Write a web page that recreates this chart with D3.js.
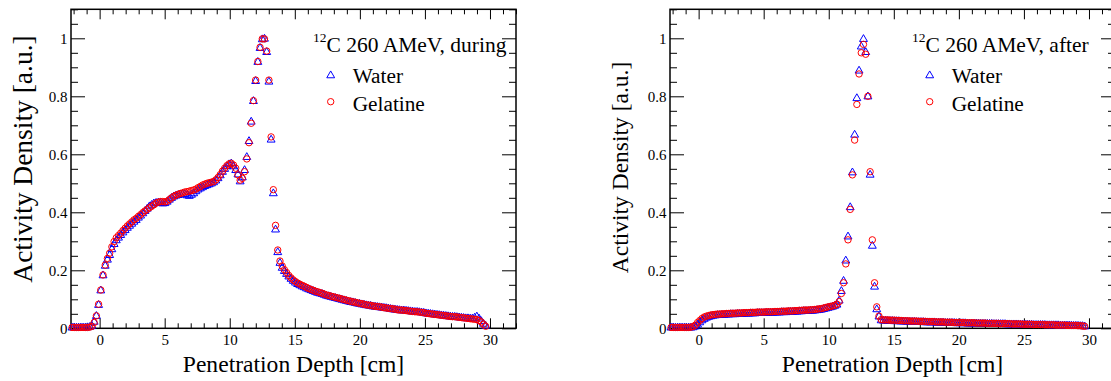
<!DOCTYPE html>
<html>
<head>
<meta charset="utf-8">
<script src="https://cdn.jsdelivr.net/npm/d3@7/dist/d3.min.js"></script>
<style>
  body { margin: 0; background: #fff; }
  svg { display: block; }
  text { font-family: "Liberation Serif", "Times New Roman", serif; fill: #000; }
</style>
</head>
<body>
<svg id="chart" width="1111" height="381"></svg>
<script>
// Histogram binning along the beam axis (cm)
const binFirstCenter = -2.12;
const binWidth = 0.17;

// Activity density measured during irradiation
const waterDuring = [
  0.002,0.002,0.002,0.002,0.002,0.002,0.002,0.003,0.004,0.008,
  0.022,0.042,0.080,0.130,0.182,0.215,0.236,0.252,0.272,0.290,
  0.303,0.312,0.321,0.330,0.338,0.346,0.353,0.360,0.367,0.373,
  0.381,0.388,0.396,0.404,0.412,0.420,0.425,0.430,0.432,0.433,
  0.432,0.430,0.431,0.436,0.443,0.449,0.454,0.457,0.459,0.461,
  0.463,0.462,0.458,0.456,0.460,0.465,0.472,0.478,0.482,0.486,
  0.490,0.493,0.496,0.499,0.503,0.509,0.517,0.527,0.539,0.549,
  0.558,0.565,0.568,0.558,0.545,0.530,0.506,0.520,0.545,0.590,
  0.645,0.712,0.783,0.852,0.918,0.966,0.996,0.998,0.952,0.850,
  0.650,0.465,0.340,0.262,0.225,0.208,0.197,0.187,0.178,0.170,
  0.163,0.157,0.152,0.148,0.144,0.141,0.137,0.134,0.131,0.128,
  0.125,0.122,0.120,0.118,0.115,0.112,0.110,0.108,0.106,0.104,
  0.102,0.100,0.098,0.096,0.094,0.092,0.090,0.089,0.087,0.085,
  0.084,0.082,0.081,0.079,0.078,0.077,0.075,0.074,0.073,0.072,
  0.071,0.070,0.069,0.068,0.066,0.065,0.064,0.063,0.062,0.061,
  0.061,0.060,0.059,0.058,0.057,0.056,0.056,0.055,0.054,0.053,
  0.051,0.050,0.049,0.048,0.047,0.046,0.045,0.044,0.043,0.042,
  0.041,0.040,0.039,0.039,0.038,0.037,0.036,0.035,0.034,0.034,
  0.033,0.033,0.036,0.040,0.033,0.024,0.015,0.008
];
const gelatineDuring = [
  0.003,0.003,0.003,0.003,0.003,0.003,0.003,0.003,0.004,0.007,
  0.020,0.043,0.083,0.132,0.184,0.218,0.241,0.259,0.281,0.299,
  0.312,0.320,0.328,0.337,0.345,0.353,0.360,0.367,0.374,0.379,
  0.386,0.392,0.399,0.405,0.410,0.416,0.421,0.426,0.432,0.435,
  0.437,0.437,0.436,0.438,0.444,0.450,0.455,0.459,0.462,0.465,
  0.467,0.470,0.471,0.473,0.475,0.477,0.480,0.485,0.489,0.494,
  0.497,0.500,0.502,0.504,0.506,0.512,0.520,0.530,0.542,0.552,
  0.561,0.567,0.569,0.563,0.552,0.529,0.511,0.517,0.540,0.584,
  0.640,0.707,0.785,0.856,0.920,0.969,0.998,0.998,0.956,0.856,
  0.660,0.478,0.355,0.270,0.232,0.215,0.202,0.192,0.182,0.174,
  0.167,0.161,0.156,0.152,0.148,0.145,0.141,0.137,0.134,0.131,
  0.128,0.126,0.123,0.121,0.118,0.115,0.113,0.111,0.109,0.107,
  0.105,0.103,0.101,0.099,0.097,0.095,0.093,0.091,0.090,0.088,
  0.086,0.085,0.083,0.081,0.080,0.079,0.077,0.076,0.075,0.074,
  0.073,0.071,0.070,0.069,0.068,0.067,0.066,0.064,0.063,0.063,
  0.062,0.061,0.060,0.059,0.058,0.057,0.057,0.056,0.055,0.054,
  0.052,0.051,0.050,0.049,0.048,0.047,0.046,0.045,0.044,0.043,
  0.042,0.041,0.040,0.040,0.039,0.038,0.037,0.036,0.035,0.034,
  0.033,0.032,0.031,0.030,0.027,0.022,0.014,0.007
];

// Activity density measured after irradiation
const waterAfter = [
  0.002,0.002,0.002,0.002,0.002,0.002,0.002,0.002,0.002,0.002,
  0.003,0.006,0.012,0.020,0.027,0.032,0.036,0.039,0.041,0.043,
  0.044,0.045,0.045,0.046,0.046,0.047,0.047,0.048,0.048,0.048,
  0.049,0.049,0.049,0.050,0.050,0.050,0.051,0.051,0.051,0.052,
  0.052,0.052,0.052,0.053,0.053,0.053,0.053,0.054,0.054,0.054,
  0.055,0.055,0.055,0.056,0.056,0.056,0.057,0.057,0.058,0.058,
  0.059,0.059,0.059,0.060,0.060,0.061,0.062,0.063,0.064,0.066,
  0.068,0.070,0.072,0.074,0.077,0.081,0.095,0.128,0.163,0.233,
  0.316,0.417,0.537,0.667,0.793,0.888,0.971,0.997,0.952,0.799,
  0.529,0.284,0.143,0.065,0.040,0.027,0.026,0.026,0.025,0.025,
  0.025,0.024,0.024,0.024,0.023,0.023,0.023,0.022,0.022,0.022,
  0.022,0.021,0.021,0.021,0.021,0.020,0.020,0.020,0.020,0.020,
  0.019,0.019,0.019,0.019,0.018,0.018,0.018,0.018,0.018,0.017,
  0.017,0.017,0.017,0.017,0.016,0.016,0.016,0.016,0.016,0.016,
  0.015,0.015,0.015,0.015,0.015,0.015,0.014,0.014,0.014,0.014,
  0.014,0.014,0.013,0.013,0.013,0.013,0.013,0.013,0.012,0.012,
  0.012,0.012,0.012,0.012,0.011,0.011,0.011,0.011,0.011,0.011,
  0.010,0.010,0.010,0.010,0.010,0.010,0.009,0.009,0.009,0.009,
  0.009,0.009,0.008,0.008,0.008,0.007,0.007,0.006
];
const gelatineAfter = [
  0.003,0.003,0.003,0.003,0.003,0.003,0.003,0.003,0.003,0.004,
  0.006,0.011,0.020,0.027,0.034,0.039,0.042,0.044,0.046,0.047,
  0.048,0.049,0.049,0.050,0.050,0.051,0.051,0.052,0.052,0.052,
  0.053,0.053,0.053,0.054,0.054,0.054,0.055,0.055,0.055,0.056,
  0.056,0.056,0.056,0.057,0.057,0.057,0.057,0.058,0.058,0.058,
  0.059,0.059,0.059,0.060,0.060,0.060,0.061,0.061,0.062,0.062,
  0.063,0.063,0.063,0.064,0.064,0.065,0.066,0.067,0.068,0.070,
  0.072,0.074,0.075,0.077,0.079,0.083,0.092,0.120,0.157,0.222,
  0.305,0.410,0.529,0.649,0.772,0.877,0.950,0.979,0.945,0.800,
  0.540,0.305,0.157,0.074,0.042,0.030,0.029,0.029,0.029,0.028,
  0.028,0.028,0.027,0.027,0.027,0.026,0.026,0.026,0.025,0.025,
  0.025,0.025,0.024,0.024,0.024,0.024,0.023,0.023,0.023,0.023,
  0.022,0.022,0.022,0.022,0.021,0.021,0.021,0.021,0.020,0.020,
  0.020,0.020,0.020,0.019,0.019,0.019,0.019,0.019,0.018,0.018,
  0.018,0.018,0.018,0.017,0.017,0.017,0.017,0.017,0.017,0.016,
  0.016,0.016,0.016,0.016,0.015,0.015,0.015,0.015,0.015,0.014,
  0.014,0.014,0.014,0.014,0.013,0.013,0.013,0.013,0.013,0.012,
  0.012,0.012,0.012,0.012,0.011,0.011,0.011,0.011,0.011,0.010,
  0.010,0.010,0.010,0.010,0.009,0.009,0.008,0.007
];

// Axis ticks and labels
const xMajorTicks = [0, 5, 10, 15, 20, 25, 30];
const xMinorTicks = [-2,-1,1,2,3,4,6,7,8,9,11,12,13,14,16,17,18,19,21,22,23,24,26,27,28,29,31,32];
const yMajorTicks = [0, 0.2, 0.4, 0.6, 0.8, 1];
const yMinorTicks = [0.05,0.1,0.15,0.25,0.3,0.35,0.45,0.5,0.55,0.65,0.7,0.75,0.85,0.9,0.95,1.05,1.1];
const xTitle = "Penetration Depth [cm]";
const yTitle = "Activity Density [a.u.]";
const seriesNames = ["Water", "Gelatine"];
const seriesColors = ["#0000ff", "#ff0000"];
const phaseLabels = ["during", "after"];

const panels = [
  { dx: 0,   phase: phaseLabels[0], water: waterDuring, gel: gelatineDuring,
    yTitleSize: 27.5, yTitleX: 32, yTitleY: 159 },
  { dx: 599, phase: phaseLabels[1], water: waterAfter, gel: gelatineAfter,
    yTitleSize: 23.5, yTitleX: 29, yTitleY: 167.5 }
];

const frame = { left: 71, right: 516, top: 9.3, bottom: 328.3 };
const svg = d3.select("#chart");
const serif = '"Liberation Serif", "Times New Roman", serif';

const triPath = d3.symbol(d3.symbolTriangle).size(27)();

function styleAxis(g, labelSize) {
  g.select(".domain").remove();
  g.selectAll(".tick line").attr("stroke", "#000").attr("stroke-width", 1);
  g.attr("font-family", serif).attr("font-size", labelSize);
  g.selectAll("text")
    .style("font-family", serif)
    .style("font-size", labelSize + "px")
    .attr("fill", "#000");
}

panels.forEach(p => {
  const g = svg.append("g").attr("transform", `translate(${p.dx},0)`);

  const x = d3.scaleLinear().domain([-2.2, 32]).range([frame.left, frame.right]);
  const y = d3.scaleLinear().domain([0, 1.1]).range([frame.bottom, frame.top]);
  const depth = i => binFirstCenter + binWidth * i;

  // bottom axis
  g.append("g").attr("transform", `translate(0,${frame.bottom})`)
    .call(d3.axisBottom(x).tickValues(xMajorTicks).tickSize(-10).tickPadding(6.5)
      .tickFormat(d3.format("d")))
    .call(a => styleAxis(a, 15));
  g.append("g").attr("transform", `translate(0,${frame.bottom})`)
    .call(d3.axisBottom(x).tickValues(xMinorTicks).tickSize(-5).tickFormat(""))
    .call(a => styleAxis(a, 15));
  // top axis
  g.append("g").attr("transform", `translate(0,${frame.top})`)
    .call(d3.axisTop(x).tickValues(xMajorTicks).tickSize(-10).tickFormat(""))
    .call(a => styleAxis(a, 15));
  g.append("g").attr("transform", `translate(0,${frame.top})`)
    .call(d3.axisTop(x).tickValues(xMinorTicks).tickSize(-5).tickFormat(""))
    .call(a => styleAxis(a, 15));
  // left axis
  g.append("g").attr("transform", `translate(${frame.left},0)`)
    .call(d3.axisLeft(y).tickValues(yMajorTicks).tickSize(-14).tickPadding(3.5)
      .tickFormat(d3.format("~g")))
    .call(a => styleAxis(a, 15));
  g.append("g").attr("transform", `translate(${frame.left},0)`)
    .call(d3.axisLeft(y).tickValues(yMinorTicks).tickSize(-7).tickFormat(""))
    .call(a => styleAxis(a, 15));
  // right axis
  g.append("g").attr("transform", `translate(${frame.right},0)`)
    .call(d3.axisRight(y).tickValues(yMajorTicks).tickSize(-14).tickFormat(""))
    .call(a => styleAxis(a, 15));
  g.append("g").attr("transform", `translate(${frame.right},0)`)
    .call(d3.axisRight(y).tickValues(yMinorTicks).tickSize(-7).tickFormat(""))
    .call(a => styleAxis(a, 15));

  // frame
  g.append("rect")
    .attr("x", frame.left).attr("y", frame.top)
    .attr("width", frame.right - frame.left).attr("height", frame.bottom - frame.top)
    .attr("fill", "none").attr("stroke", "#000").attr("stroke-width", 1.5);

  // axis titles
  g.append("text")
    .attr("x", (frame.left + frame.right) / 2).attr("y", 371.7)
    .attr("text-anchor", "middle")
    .style("font-family", serif).style("font-size", "23.6px")
    .text(xTitle);
  g.append("text")
    .attr("transform", `translate(${p.yTitleX},${p.yTitleY}) rotate(-90)`)
    .attr("text-anchor", "middle")
    .style("font-family", serif).style("font-size", p.yTitleSize + "px")
    .text(yTitle);

  // water: open triangles
  g.append("g").selectAll("path")
    .data(p.water)
    .join("path")
    .attr("d", triPath)
    .attr("transform", (v, i) => `translate(${x(depth(i))},${y(v)})`)
    .attr("fill", "none").attr("stroke", seriesColors[0]).attr("stroke-width", 1);

  // gelatine: open circles
  g.append("g").selectAll("circle")
    .data(p.gel)
    .join("circle")
    .attr("cx", (v, i) => x(depth(i)))
    .attr("cy", v => y(v))
    .attr("r", 3.2)
    .attr("fill", "none").attr("stroke", seriesColors[1]).attr("stroke-width", 1);

  // legend
  const head = g.append("text").attr("x", 313).attr("y", 51.7)
    .style("font-family", serif).style("font-size", "21.5px");
  head.append("tspan").style("font-size", "13.5px").attr("dy", -10).text("12");
  head.append("tspan").attr("dy", 10).text(`C 260 AMeV, ${p.phase}`);

  g.append("path").attr("d", triPath)
    .attr("transform", "translate(330.7,75.5)")
    .attr("fill", "none").attr("stroke", seriesColors[0]).attr("stroke-width", 1);
  g.append("text").attr("x", 352.7).attr("y", 83.3)
    .style("font-family", serif).style("font-size", "21.3px").text(seriesNames[0]);

  g.append("circle").attr("cx", 330.7).attr("cy", 101.7).attr("r", 3.2)
    .attr("fill", "none").attr("stroke", seriesColors[1]).attr("stroke-width", 1);
  g.append("text").attr("x", 352.7).attr("y", 110.7)
    .style("font-family", serif).style("font-size", "21.3px").text(seriesNames[1]);
});
</script>
</body>
</html>
